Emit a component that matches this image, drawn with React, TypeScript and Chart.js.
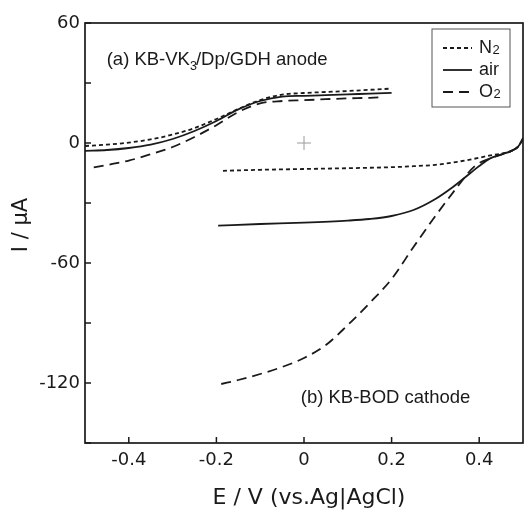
import React, { useEffect, useRef } from "react";
import { Chart, registerables } from "chart.js";

Chart.register(...registerables);

// ---------- data (E in V vs Ag|AgCl, I in µA) ----------
const anodeV = [-0.5, -0.45, -0.4, -0.35, -0.3, -0.25, -0.2, -0.15, -0.1, -0.05, 0, 0.05, 0.1, 0.15, 0.2];
const anodeN2 = [-1.5, -0.8, 0.2, 1.8, 4.2, 7.5, 12.0, 17.0, 21.5, 24.2, 25.0, 25.5, 26.0, 26.6, 27.2];
const anodeAir = [-3.9, -3.5, -2.5, -0.8, 2.0, 6.0, 11.0, 16.8, 21.0, 23.2, 23.6, 23.9, 24.3, 24.7, 25.1];
const anodeO2V = [-0.48, -0.45, -0.4, -0.35, -0.3, -0.25, -0.2, -0.15, -0.1, -0.05, 0, 0.05, 0.1, 0.15, 0.18];
const anodeO2 = [-12.2, -11.0, -8.8, -5.6, -2.0, 3.0, 8.9, 15.5, 19.8, 21.0, 21.4, 21.9, 22.3, 22.6, 22.9];

const cathodeN2V = [-0.185, -0.1, 0, 0.1, 0.2, 0.25, 0.3, 0.35, 0.4, 0.425, 0.45, 0.475, 0.49, 0.5];
const cathodeN2 = [-13.9, -13.4, -13.0, -12.6, -12.1, -11.6, -10.9, -9.4, -7.4, -6.2, -5.3, -3.8, -1.5, 2.0];
const cathodeAirV = [-0.196, -0.1, 0, 0.1, 0.15, 0.2, 0.25, 0.3, 0.34, 0.38, 0.4, 0.425, 0.45, 0.475, 0.49, 0.5];
const cathodeAir = [-41.3, -40.5, -39.8, -38.8, -38.0, -36.5, -33.5, -28.0, -22.0, -15.0, -11.5, -7.7, -5.8, -3.8, -1.5, 2.5];
const cathodeO2V = [-0.189, -0.15, -0.1, -0.05, 0, 0.05, 0.1, 0.15, 0.2, 0.25, 0.3, 0.35, 0.39, 0.425, 0.45, 0.475, 0.49, 0.5];
const cathodeO2 = [-120.5, -118.5, -115.5, -112.0, -107.5, -101.0, -91.0, -80.0, -68.0, -52.0, -36.5, -22.0, -11.5, -7.7, -5.8, -3.8, -1.5, 2.0];

const crossV = [0];
const crossI = [0];

const xTicks = [-0.4, -0.2, 0, 0.2, 0.4];
const yMin = -150;
const yMax = 60;
const yStep = 30;
const yLabelStep = 60;

const xTitle = "E / V (vs.Ag|AgCl)";
const yTitle = "I / μA";

const legendLabels = [
  { main: "N", sub: "2", dash: [4, 3] },
  { main: "air", sub: "", dash: [] as number[] },
  { main: "O", sub: "2", dash: [10, 6] },
];

const FONT = "'Liberation Sans', Arial, sans-serif";
const WIDE = "'DejaVu Sans', sans-serif";
const INK = "#1a1a1a";

const pts = (xs: number[], ys: number[]) => xs.map((x, i) => ({ x, y: ys[i] }));

const lineDs = (data: { x: number; y: number }[], dash: number[]) => ({
  data,
  borderColor: INK,
  borderWidth: 1.8,
  borderDash: dash,
  pointRadius: 0,
  fill: false,
  cubicInterpolationMode: "monotone" as const,
});

const framePlugin = {
  id: "frame",
  afterDraw(chart: any) {
    const { ctx, chartArea: a, scales } = chart;
    const xs = scales.x;
    const ys = scales.y;
    ctx.save();
    // frame
    ctx.strokeStyle = INK;
    ctx.lineWidth = 1.7;
    ctx.setLineDash([]);
    ctx.strokeRect(a.left, a.top, a.right - a.left, a.bottom - a.top);
    // inward ticks
    ctx.lineWidth = 1.5;
    ctx.beginPath();
    for (const t of ys.ticks) {
      const py = ys.getPixelForValue(t.value);
      ctx.moveTo(a.left, py);
      ctx.lineTo(a.left + 6, py);
    }
    for (const t of xs.ticks) {
      const px = xs.getPixelForValue(t.value);
      ctx.moveTo(px, a.bottom);
      ctx.lineTo(px, a.bottom - 6);
    }
    ctx.stroke();

    // axis titles
    ctx.fillStyle = INK;
    ctx.textBaseline = "middle";
    ctx.textAlign = "center";
    ctx.font = `22px ${WIDE}`;
    ctx.fillText(xTitle, (a.left + a.right) / 2 + 5, 498);
    ctx.font = `21px ${WIDE}`;
    ctx.save();
    ctx.translate(22, 225);
    ctx.rotate(-Math.PI / 2);
    ctx.fillText(yTitle, 0, 0);
    ctx.restore();

    // annotations
    ctx.textAlign = "left";
    let x = xs.getPixelForValue(-0.4505);
    const yA = ys.getPixelForValue(41.4);
    ctx.font = `18.5px ${FONT}`;
    const p1 = "(a) KB-VK";
    ctx.fillText(p1, x, yA);
    x += ctx.measureText(p1).width;
    ctx.font = `12.5px ${FONT}`;
    ctx.fillText("3", x, yA + 6);
    x += ctx.measureText("3").width - 1;
    ctx.font = `18.5px ${FONT}`;
    ctx.fillText("/Dp/GDH anode", x, yA);

    ctx.fillText("(b) KB-BOD cathode", xs.getPixelForValue(-0.0075), ys.getPixelForValue(-127.4));

    // legend
    const bx = 432, by = 29, bw = 78, bh = 78;
    ctx.strokeStyle = "#555";
    ctx.lineWidth = 1;
    ctx.strokeRect(bx, by, bw, bh);
    legendLabels.forEach((l, i) => {
      const ly = 48 + i * 22;
      ctx.strokeStyle = INK;
      ctx.lineWidth = 1.8;
      ctx.setLineDash(l.dash);
      ctx.beginPath();
      ctx.moveTo(443, ly);
      ctx.lineTo(472, ly);
      ctx.stroke();
      ctx.setLineDash([]);
      ctx.font = `18px ${FONT}`;
      ctx.fillText(l.main, 479, ly);
      if (l.sub) {
        const w = ctx.measureText(l.main).width;
        ctx.font = `13px ${FONT}`;
        ctx.fillText(l.sub, 479 + w + 0.5, ly + 2);
      }
    });
    ctx.restore();
  },
};

export default function App() {
  const ref = useRef<HTMLCanvasElement | null>(null);
  useEffect(() => {
    document.body.style.margin = "0";
    const canvas = ref.current;
    if (!canvas) return;
    const chart = new Chart(canvas, {
      type: "line",
      data: {
        datasets: [
          lineDs(pts(anodeV, anodeN2), [4, 3]),
          lineDs(pts(anodeV, anodeAir), []),
          lineDs(pts(anodeO2V, anodeO2), [10, 6]),
          lineDs(pts(cathodeN2V, cathodeN2), [4, 3]),
          lineDs(pts(cathodeAirV, cathodeAir), []),
          lineDs(pts(cathodeO2V, cathodeO2), [10, 6]),
          {
            type: "scatter" as any,
            data: pts(crossV, crossI),
            pointStyle: "cross",
            pointRadius: 7,
            borderColor: "#9a9a9a",
            borderWidth: 1,
            showLine: false,
          } as any,
        ],
      },
      options: {
        animation: false,
        responsive: false,
        maintainAspectRatio: false,
        layout: { autoPadding: false, padding: { top: 23, right: 1, left: 0, bottom: 0 } },
        plugins: { legend: { display: false }, tooltip: { enabled: false } },
        scales: {
          x: {
            type: "linear",
            min: -0.5,
            max: 0.5,
            afterBuildTicks: (s: any) => {
              s.ticks = xTicks.map((v) => ({ value: v }));
            },
            afterFit: (s: any) => {
              s.height = 67;
              s.paddingLeft = 0;
              s.paddingRight = 0;
            },
            grid: { display: false, drawTicks: false },
            border: { display: false },
            ticks: {
              color: INK,
              font: { family: WIDE, size: 18 },
              padding: 7,
              maxRotation: 0,
              callback: (v: any) => String(Math.round(Number(v) * 10) / 10),
            },
          },
          y: {
            type: "linear",
            min: yMin,
            max: yMax,
            afterFit: (s: any) => {
              s.width = 85;
            },
            grid: { display: false, drawTicks: false },
            border: { display: false },
            ticks: {
              stepSize: yStep,
              color: INK,
              font: { family: WIDE, size: 18 },
              padding: 5,
              callback: (v: any) => (Number(v) % yLabelStep === 0 ? String(v) : ""),
            },
          },
        },
      },
      plugins: [framePlugin],
    });
    return () => chart.destroy();
  }, []);
  return <canvas ref={ref} width={524} height={510} style={{ display: "block" }} />;
}
